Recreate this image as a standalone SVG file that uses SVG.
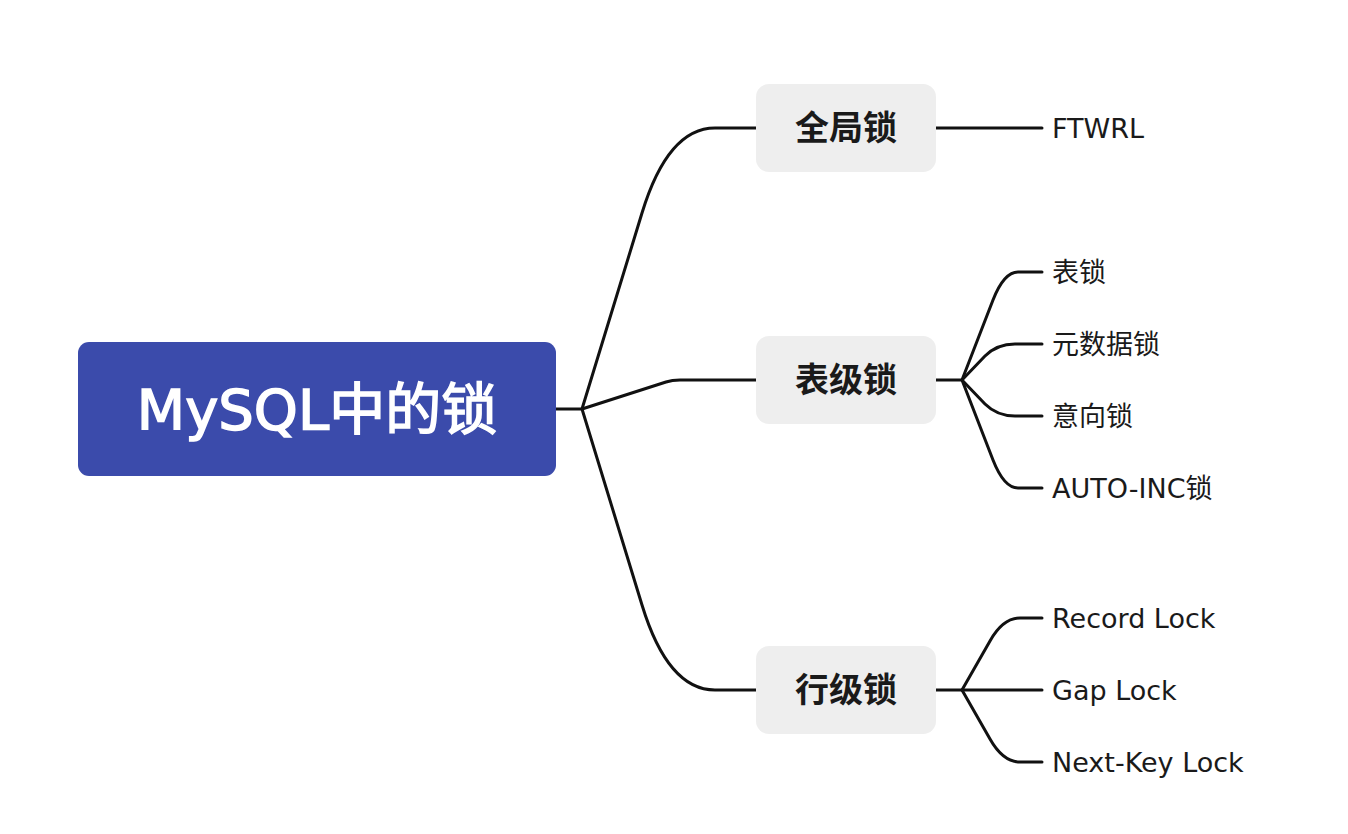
<svg xmlns="http://www.w3.org/2000/svg" width="1348" height="834" viewBox="0 0 1348 834">
<style>
.root{fill:#3b4bab}
.n1{fill:#eeeeee}
.t0{font-family:"DejaVu Sans","Noto Sans CJK SC",sans-serif;font-size:56px;fill:#ffffff;stroke:#ffffff;stroke-width:1.5px}
.t1{font-family:"DejaVu Sans","Noto Sans CJK SC",sans-serif;font-size:34px;font-weight:bold;fill:#1a1a1a}
.t2{font-family:"DejaVu Sans","Noto Sans CJK SC",sans-serif;font-size:27px;fill:#1a1a1a}
.c{fill:none;stroke:#111111;stroke-width:3;stroke-linecap:round;stroke-linejoin:round}
</style>
<rect width="1348" height="834" fill="#ffffff"/>
<g id="connectors">
<path class="c" d="M556,409 L582,409"/>
<path class="c" d="M582,409 L642,213 Q668,128 715,128 L756,128"/>
<path class="c" d="M582,409 L666,382 Q672,380 680,380 L756,380"/>
<path class="c" d="M582,409 L642,605 Q668,690 715,690 L756,690"/>
<path class="c" d="M936,128 L1042,128"/>
<path class="c" d="M936,380 L962,380"/>
<path class="c" d="M962,380 L993,300 Q1004,272 1018,272 L1042,272"/>
<path class="c" d="M962,380 L985,356 Q997,344 1015,344 L1042,344"/>
<path class="c" d="M962,380 L985,404 Q997,416 1015,416 L1042,416"/>
<path class="c" d="M962,380 L993,460 Q1004,488 1018,488 L1042,488"/>
<path class="c" d="M936,690 L1042,690"/>
<path class="c" d="M962,690 L990,641 Q1003,618 1020,618 L1042,618"/>
<path class="c" d="M962,690 L990,739 Q1003,762 1020,762 L1042,762"/>
</g>
<g id="root">
<rect class="root" x="78" y="342" width="478" height="134" rx="11"/>
<text class="t0" x="317" y="409" text-anchor="middle" dominant-baseline="central">MySQL中的锁</text>
</g>
<g id="global-lock">
<rect class="n1" x="756" y="84" width="180" height="88" rx="13"/>
<text class="t1" x="846" y="128" text-anchor="middle" dominant-baseline="central">全局锁</text>
</g>
<g id="table-lock">
<rect class="n1" x="756" y="336" width="180" height="88" rx="13"/>
<text class="t1" x="846" y="380" text-anchor="middle" dominant-baseline="central">表级锁</text>
</g>
<g id="row-lock">
<rect class="n1" x="756" y="646" width="180" height="88" rx="13"/>
<text class="t1" x="846" y="690" text-anchor="middle" dominant-baseline="central">行级锁</text>
</g>
<g id="ftwrl"><text class="t2" x="1052" y="128" dominant-baseline="central">FTWRL</text></g>
<g id="tbl"><text class="t2" x="1052" y="272" dominant-baseline="central">表锁</text></g>
<g id="mdl"><text class="t2" x="1052" y="344" dominant-baseline="central">元数据锁</text></g>
<g id="intent"><text class="t2" x="1052" y="416" dominant-baseline="central">意向锁</text></g>
<g id="autoinc"><text class="t2" x="1052" y="488" dominant-baseline="central">AUTO-INC锁</text></g>
<g id="record"><text class="t2" x="1052" y="618" dominant-baseline="central">Record Lock</text></g>
<g id="gap"><text class="t2" x="1052" y="690" dominant-baseline="central">Gap Lock</text></g>
<g id="nextkey"><text class="t2" x="1052" y="762" dominant-baseline="central">Next-Key Lock</text></g>
</svg>
